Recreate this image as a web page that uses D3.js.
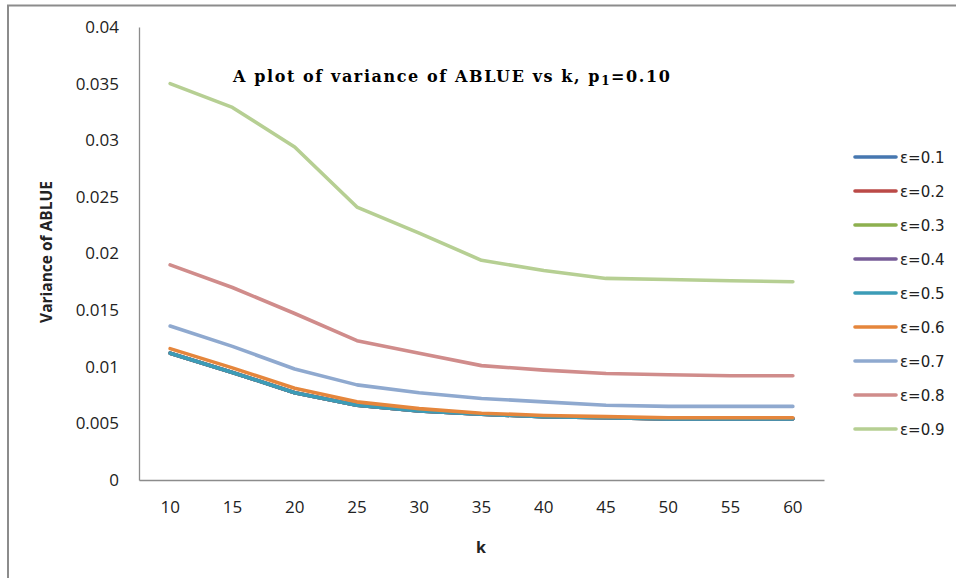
<!DOCTYPE html>
<html>
<head>
<meta charset="utf-8">
<script src="https://cdn.jsdelivr.net/npm/d3@7"></script>
<style>
  html, body { margin: 0; padding: 0; background: #fff; }
  svg { display: block; }
</style>
</head>
<body>
<svg id="chart" width="956" height="578"></svg>
<script>
// k values on the category axis
const kValues = [10, 15, 20, 25, 30, 35, 40, 45, 50, 55, 60];

// y-axis tick labels
const yTicks = [0, 0.005, 0.01, 0.015, 0.02, 0.025, 0.03, 0.035, 0.04];

// series names (epsilon levels)
const seriesNames = ["ε=0.1", "ε=0.2", "ε=0.3", "ε=0.4", "ε=0.5", "ε=0.6", "ε=0.7", "ε=0.8", "ε=0.9"];

// variance of ABLUE for each epsilon, over k
const eps01 = [0.0112, 0.0095, 0.0077, 0.0066, 0.0061, 0.0058, 0.0056, 0.0055, 0.0054, 0.0054, 0.0054];
const eps02 = [0.0112, 0.0095, 0.0077, 0.0066, 0.0061, 0.0058, 0.0056, 0.0055, 0.0054, 0.0054, 0.0054];
const eps03 = [0.0112, 0.0095, 0.0077, 0.0066, 0.0061, 0.0058, 0.0056, 0.0055, 0.0054, 0.0054, 0.0054];
const eps04 = [0.0112, 0.0095, 0.0077, 0.0066, 0.0061, 0.0058, 0.0056, 0.0055, 0.0054, 0.0054, 0.0054];
const eps05 = [0.0112, 0.0095, 0.0077, 0.0066, 0.0061, 0.0058, 0.0056, 0.0055, 0.0054, 0.0054, 0.0054];
const eps06 = [0.0116, 0.0099, 0.0081, 0.0069, 0.0063, 0.0059, 0.0057, 0.0056, 0.0055, 0.0055, 0.0055];
const eps07 = [0.0136, 0.0118, 0.0098, 0.0084, 0.0077, 0.0072, 0.0069, 0.0066, 0.0065, 0.0065, 0.0065];
const eps08 = [0.0190, 0.0170, 0.0147, 0.0123, 0.0112, 0.0101, 0.0097, 0.0094, 0.0093, 0.0092, 0.0092];
const eps09 = [0.0350, 0.0329, 0.0294, 0.0241, 0.0218, 0.0194, 0.0185, 0.0178, 0.0177, 0.0176, 0.0175];

const seriesValues = [eps01, eps02, eps03, eps04, eps05, eps06, eps07, eps08, eps09];
const seriesColors = ["#4677b0", "#bb4a47", "#8db04f", "#775c98", "#3c9cb7",
                      "#e5863c", "#8fa9cf", "#d08c8b", "#b6cf93"];

const svg = d3.select("#chart");
const W = 956, H = 578;

// outer frame of the chart object
svg.append("rect")
  .attr("x", 8).attr("y", 5.5)
  .attr("width", W + 10).attr("height", H + 10)
  .attr("fill", "#fff")
  .attr("stroke", "#8c8c8c").attr("stroke-width", 2);

const plot = { left: 139, right: 824, top: 27, bottom: 480 };

const x = d3.scaleBand()
  .domain(kValues)
  .range([plot.left, plot.right]);

const y = d3.scaleLinear()
  .domain([0, 0.04])
  .range([plot.bottom, plot.top]);

const tickFont = "'Open Sans', 'Liberation Sans', sans-serif";

// y axis
const yAxis = svg.append("g")
  .attr("transform", `translate(${plot.left},0)`)
  .call(d3.axisLeft(y).tickValues(yTicks).tickSize(0).tickPadding(20)
        .tickFormat(d => d === 0 ? "0" : String(+d.toFixed(3))));
yAxis.select(".domain").attr("stroke", "#8c8c8c").attr("stroke-width", 1.3);
yAxis.selectAll("text")
  .attr("font-family", tickFont).attr("font-size", 17).attr("fill", "#222");

// x axis
const xAxis = svg.append("g")
  .attr("transform", `translate(0,${plot.bottom})`)
  .call(d3.axisBottom(x).tickSize(0).tickPadding(21));
xAxis.select(".domain").attr("stroke", "#8c8c8c").attr("stroke-width", 1.3);
xAxis.selectAll("text")
  .attr("font-family", tickFont).attr("font-size", 17).attr("fill", "#222");

// series lines
const line = d3.line()
  .x((d, i) => x(kValues[i]) + x.bandwidth() / 2)
  .y(d => y(d));

svg.append("g").selectAll("path")
  .data(seriesValues)
  .join("path")
  .attr("d", d => line(d))
  .attr("fill", "none")
  .attr("stroke", (d, i) => seriesColors[i])
  .attr("stroke-width", 3.6)
  .attr("stroke-linejoin", "round")
  .attr("stroke-linecap", "round");

// title
const title = svg.append("text")
  .attr("x", 233).attr("y", 82)
  .attr("font-family", "'DejaVu Serif', serif")
  .attr("font-weight", "bold")
  .attr("font-size", 16)
  .attr("letter-spacing", 1.6)
  .attr("fill", "#000");
title.append("tspan").text("A plot of variance of ABLUE vs k, p");
title.append("tspan").text("1").attr("font-size", 12).attr("dy", 3);
title.append("tspan").text("=0.10").attr("dy", -3);

// axis titles
svg.append("text")
  .attr("transform", "translate(52,252) rotate(-90)")
  .attr("text-anchor", "middle")
  .attr("font-family", tickFont)
  .attr("font-weight", "bold")
  .attr("font-size", 15.5)
  .attr("fill", "#222")
  .text("Variance of ABLUE");

svg.append("text")
  .attr("x", 481).attr("y", 553)
  .attr("text-anchor", "middle")
  .attr("font-family", tickFont)
  .attr("font-weight", "bold")
  .attr("font-size", 16)
  .attr("fill", "#222")
  .text("k");

// legend
const legend = svg.append("g").selectAll("g")
  .data(seriesNames)
  .join("g")
  .attr("transform", (d, i) => `translate(855,${157 + i * 34})`);
legend.append("line")
  .attr("x1", 0).attr("x2", 41)
  .attr("stroke", (d, i) => seriesColors[i])
  .attr("stroke-width", 3.6)
  .attr("stroke-linecap", "round");
legend.append("text")
  .attr("x", 45).attr("y", 5.5)
  .attr("font-family", "'DejaVu Sans', sans-serif")
  .attr("font-size", 15)
  .attr("fill", "#222")
  .text(d => d);
</script>
</body>
</html>
